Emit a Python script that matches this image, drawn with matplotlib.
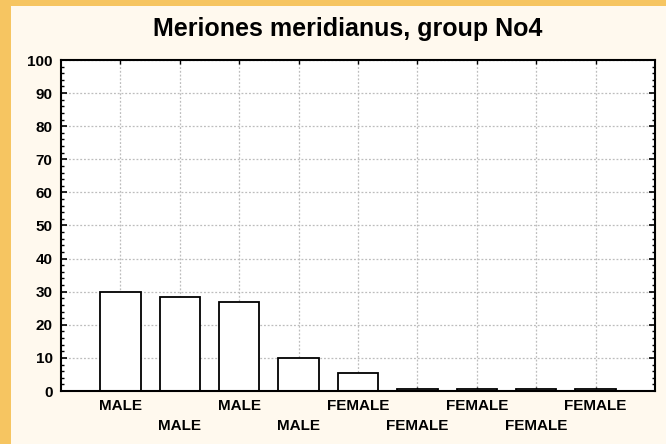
import numpy as np
import matplotlib.pyplot as plt
from matplotlib.patches import Rectangle
from matplotlib.ticker import MultipleLocator

plt.rcParams['font.family'] = ['Liberation Sans', 'DejaVu Sans']

categories = ["MALE", "MALE", "MALE", "MALE", "FEMALE", "FEMALE", "FEMALE", "FEMALE", "FEMALE"]
values = [30.0, 28.3, 27.0, 10.1, 5.3, 0.5, 0.5, 0.5, 0.5]
title = "Meriones meridianus, group No4"

fig = plt.figure(figsize=(6.66, 4.44), dpi=100)
fig.patch.set_facecolor("#F6C561")
# cream inner panel
fig.add_artist(Rectangle((11 / 666, 0), 1, 1 - 6 / 444, transform=fig.transFigure,
                         facecolor="#FFF9EE", edgecolor="none", zorder=0))

ax = fig.add_axes([61 / 666, 1 - 391 / 444, 594 / 666, 331 / 444])
ax.set_facecolor("white")
pos = np.arange(1, len(values) + 1)
ax.bar(pos, values, width=0.68, color="white", edgecolor="black", linewidth=1.3, zorder=3)

ax.set_xlim(0, 10)
ax.set_ylim(0, 100)
ax.yaxis.set_major_locator(MultipleLocator(10))
ax.yaxis.set_minor_locator(MultipleLocator(2))
ax.set_xticks(pos)
ax.set_xticklabels([c if i % 2 == 0 else "\n" + c for i, c in enumerate(categories)],
                   fontsize=11, fontweight="bold", linespacing=1.55)
for lab in ax.get_yticklabels():
    lab.set_fontweight("bold")
ax.tick_params(axis="y", labelsize=11, direction="in", right=True, length=4, width=1.2, pad=6)
ax.tick_params(axis="y", which="minor", direction="in", right=True, length=2.5, width=1)
ax.tick_params(axis="x", direction="in", top=True, length=3, width=1, pad=6)
ax.grid(True, color="#BDBDBD", linestyle=(0, (1.5, 1.5)), linewidth=0.9, zorder=0)
for sp in ax.spines.values():
    sp.set_linewidth(1.5)
    sp.set_zorder(5)

fig.text(348 / 666, 1 - 29 / 444, title, ha="center", va="center",
         fontsize=18, fontweight="bold")

plt.savefig("out.png", dpi=100, facecolor=fig.get_facecolor())
